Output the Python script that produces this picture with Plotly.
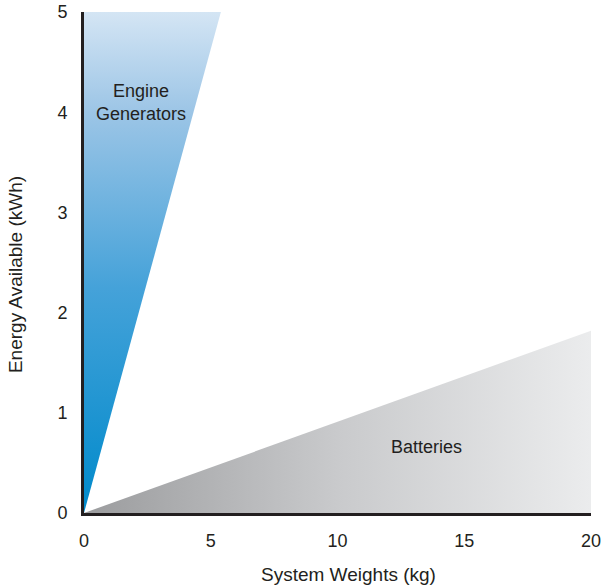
import plotly.graph_objects as go

# Data
engine_x = [0, 0, 5.4, 0]
engine_y = [0, 5, 5, 0]
battery_x = [0, 20, 20, 0]
battery_y = [0, 0, 1.82, 0]
labels = ["Engine<br>Generators", "Batteries"]
label_x = [2.25, 13.5]
label_y = [4.1, 0.66]
x_ticks = [0, 5, 10, 15, 20]
y_ticks = [0, 1, 2, 3, 4, 5]
x_title = "System Weights (kg)"
y_title = "Energy Available (kWh)"

FONT = "Liberation Sans, Arial"
INK = "#231f20"

fig = go.Figure()
fig.add_trace(go.Scatter(
    x=battery_x, y=battery_y, mode="lines", line=dict(width=0),
    fill="toself",
    fillgradient=dict(type="horizontal",
                      colorscale=[[0, "#9b9c9e"], [0.5, "#c9cacc"], [1, "#ebeced"]]),
    hoverinfo="skip", showlegend=False))
fig.add_trace(go.Scatter(
    x=engine_x, y=engine_y, mode="lines", line=dict(width=0),
    fill="toself",
    fillgradient=dict(type="vertical",
                      colorscale=[[0, "#008acb"], [0.45, "#45a2d9"], [0.8, "#9cc5e6"], [1, "#d4e5f4"]]),
    hoverinfo="skip", showlegend=False))

for t, x, y in zip(labels, label_x, label_y):
    fig.add_annotation(x=x, y=y, text=t, showarrow=False,
                       font=dict(family=FONT, size=18, color=INK))

# axis titles
fig.add_annotation(xref="paper", yref="paper", x=0.521, y=-0.122,
                   xanchor="center", yanchor="middle", text=x_title, showarrow=False,
                   font=dict(family=FONT, size=19, color=INK))
fig.add_annotation(xref="paper", yref="paper", x=-0.136, y=0.475,
                   xanchor="center", yanchor="middle", text=y_title, showarrow=False,
                   textangle=-90, font=dict(family=FONT, size=19, color=INK))

fig.update_layout(
    width=603, height=588,
    margin=dict(l=84, r=12, t=12, b=75),
    plot_bgcolor="white", paper_bgcolor="white",
    font=dict(family=FONT, size=18, color=INK),
    xaxis=dict(range=[0, 20], tickvals=x_ticks, showgrid=False, zeroline=False,
               automargin=False,
               showline=True, linecolor=INK, linewidth=3,
               ticks="outside", ticklen=9, tickcolor="rgba(0,0,0,0)"),
    yaxis=dict(range=[0, 5], tickvals=y_ticks, showgrid=False, zeroline=False,
               automargin=False,
               showline=True, linecolor=INK, linewidth=3,
               ticks="outside", ticklen=10, tickcolor="rgba(0,0,0,0)"),
)
fig.write_html("out.html", config={"displayModeBar": False},
               post_script="document.body.style.margin='0';document.body.style.overflow='hidden';")
